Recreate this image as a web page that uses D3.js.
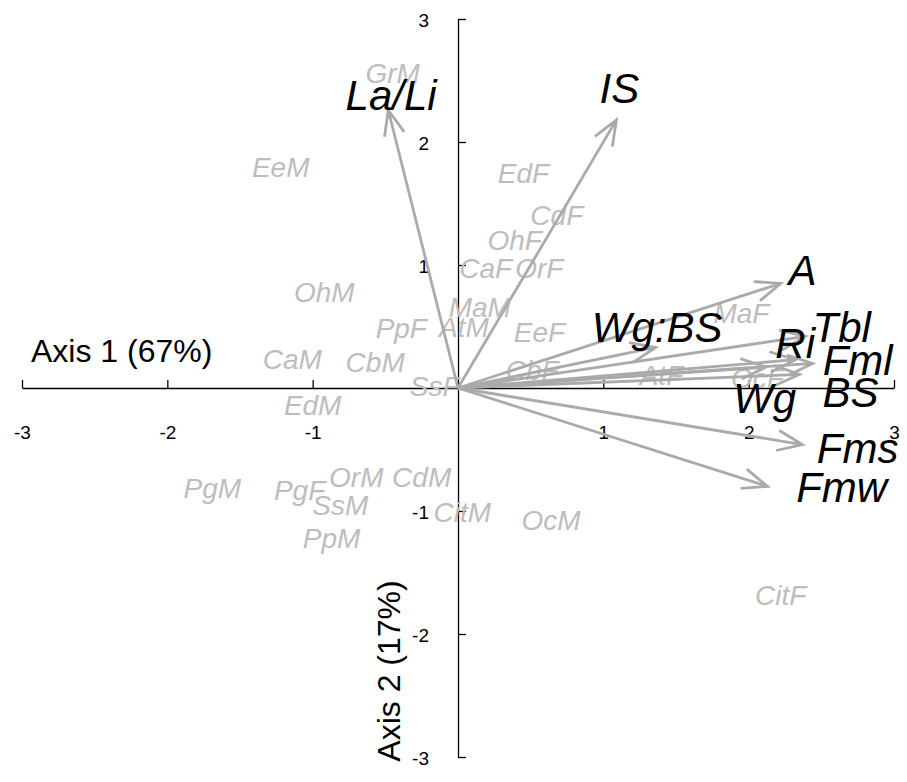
<!DOCTYPE html>
<html>
<head>
<meta charset="utf-8">
<script src="https://cdn.jsdelivr.net/npm/d3@7"></script>
<style>
  html, body { margin: 0; padding: 0; background: #fff; }
  svg { display: block; font-family: "Liberation Sans", Arial, Helvetica, sans-serif; }
</style>
</head>
<body>
<svg id="chart" width="907" height="782"></svg>
<script>
// PCA biplot: loadings (arrows) and site/sex scores (grey labels)

// variable loadings: name, axis 1, axis 2
const variables = ["La/Li", "IS", "A", "Wg:BS", "Tbl", "Ri", "Fml", "Wg", "BS", "Fms", "Fmw"];
const loadX = [-0.48, 1.09, 2.22, 1.36, 2.39, 2.32, 2.44, 2.12, 2.35, 2.37, 2.13];
const loadY = [2.26, 2.18, 0.85, 0.33, 0.42, 0.23, 0.20, 0.17, 0.11, -0.46, -0.80];
// where each variable name sits
const varLabelX = [-0.46, 1.11, 2.37, 1.37, 2.64, 2.32, 2.75, 2.11, 2.70, 2.75, 2.64];
const varLabelY = [2.38, 2.44, 0.96, 0.50, 0.50, 0.37, 0.23, -0.08, -0.03, -0.49, -0.80];

// sample scores
const samples = ["GrM", "EeM", "EdF", "CdF", "OhF", "CaF", "OrF", "OhM", "MaM", "AtM",
                 "PpF", "EeF", "MaF", "CaM", "CbM", "CbF", "AtF", "SsF", "OcF", "EdM",
                 "OrM", "CdM", "PgM", "PgF", "SsM", "CitM", "OcM", "PpM", "CitF"];
const scoreX = [-0.45, -1.22, 0.45, 0.68, 0.39, 0.19, 0.56, -0.92, 0.15, 0.04,
                -0.39, 0.56, 1.95, -1.14, -0.57, 0.51, 1.40, -0.16, 2.06, -1.00,
                -0.70, -0.25, -1.69, -1.09, -0.81, 0.03, 0.64, -0.87, 2.22];
const scoreY = [2.56, 1.80, 1.75, 1.41, 1.20, 0.98, 0.98, 0.78, 0.66, 0.50,
                0.49, 0.46, 0.61, 0.24, 0.21, 0.15, 0.11, 0.02, 0.08, -0.14,
                -0.72, -0.72, -0.81, -0.83, -0.95, -1.01, -1.07, -1.22, -1.68];

const tickValues = [-3, -2, -1, 1, 2, 3];
const tickLabels = ["-3", "-2", "-1", "1", "2", "3"];
const axis1Title = "Axis 1 (67%)";
const axis2Title = "Axis 2 (17%)";

const svg = d3.select("#chart");
const x = d3.scaleLinear().domain([-3, 3]).range([22, 894]);
const y = d3.scaleLinear().domain([-3, 3]).range([757, 19]);

const axisColor = "#000";
const arrowColor = "#aaaaaa";
const sampleColor = "#bdbdbd";
const fmt = v => tickLabels[tickValues.indexOf(v)];

// axes through the origin
const gx = svg.append("g")
  .attr("transform", `translate(0,${y(0)})`)
  .call(d3.axisBottom(x).tickValues(tickValues).tickFormat(fmt)
    .tickSize(-8).tickSizeOuter(0).tickPadding(38));
const gy = svg.append("g")
  .attr("transform", `translate(${x(0)},0)`)
  .call(d3.axisLeft(y).tickValues(tickValues).tickFormat(fmt)
    .tickSize(-8).tickSizeOuter(0).tickPadding(29));
[gx, gy].forEach(g => {
  g.selectAll("path, line").attr("stroke", axisColor).attr("stroke-width", 1.3);
  g.selectAll("text").attr("fill", axisColor).style("font-size", "19px")
    .style("font-family", '"Liberation Sans", Arial, sans-serif');
});
gy.selectAll("text").attr("dy", "0.42em");

// axis titles
svg.append("text")
  .attr("x", 31).attr("y", 362)
  .style("font-size", "32px")
  .text(axis1Title);
svg.append("text")
  .attr("transform", "translate(400,671) rotate(-90)")
  .attr("text-anchor", "middle")
  .style("font-size", "32px")
  .text(axis2Title);

// sample labels
svg.append("g").selectAll("text")
  .data(samples)
  .join("text")
  .attr("x", (d, i) => x(scoreX[i]))
  .attr("y", (d, i) => y(scoreY[i]))
  .attr("dy", "0.36em")
  .attr("text-anchor", "middle")
  .attr("fill", sampleColor)
  .style("font-size", "28px")
  .style("font-style", "italic")
  .text(d => d);

// loading arrows with open heads
const headLen = 27, headAngle = 22 * Math.PI / 180;
function arrowPath(i) {
  const x0 = x(0), y0 = y(0), x1 = x(loadX[i]), y1 = y(loadY[i]);
  const a = Math.atan2(y0 - y1, x0 - x1);
  const p = d3.path();
  p.moveTo(x0, y0); p.lineTo(x1, y1);
  p.moveTo(x1 + headLen * Math.cos(a + headAngle), y1 + headLen * Math.sin(a + headAngle));
  p.lineTo(x1, y1);
  p.lineTo(x1 + headLen * Math.cos(a - headAngle), y1 + headLen * Math.sin(a - headAngle));
  return p.toString();
}
svg.append("g").selectAll("path")
  .data(variables)
  .join("path")
  .attr("d", (d, i) => arrowPath(i))
  .attr("fill", "none")
  .attr("stroke", arrowColor)
  .attr("stroke-width", 2.8)
  .attr("stroke-linejoin", "miter");

// variable names
svg.append("g").selectAll("text")
  .data(variables)
  .join("text")
  .attr("x", (d, i) => x(varLabelX[i]))
  .attr("y", (d, i) => y(varLabelY[i]))
  .attr("dy", "0.36em")
  .attr("text-anchor", "middle")
  .attr("fill", "#000")
  .style("font-size", "42px")
  .style("font-style", "italic")
  .text(d => d);
</script>
</body>
</html>
